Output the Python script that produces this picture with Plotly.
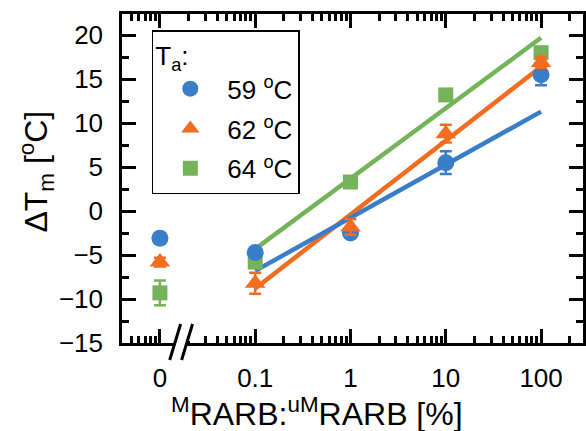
import plotly.graph_objects as go
import numpy as np

# ---- data ----
conc_labels = ["0", "0.1", "1", "10", "100"]
conc = [0, 0.1, 1, 10, 100]
zero_pos = 0.01  # where the "0" category sits on the broken log axis

series_names = ["59 <sup>o</sup>C", "62 <sup>o</sup>C", "64 <sup>o</sup>C"]
dtm_59 = [-3.1, -4.7, -2.5, 5.5, 15.5]
err_59 = [0.6, 0.4, 0.4, 1.3, 1.2]
dtm_62 = [-5.8, -8.2, -1.8, 8.8, 16.9]
err_62 = [0.5, 1.2, 0.9, 1.0, 0.6]
dtm_64 = [-9.3, -5.8, 3.3, 13.2, 18.0]
err_64 = [1.4, 0.3, 0.3, 0.3, 0.4]

fit_x = [0.1, 100]
fit_59 = [-6.8, 11.3]
fit_62 = [-8.8, 16.4]
fit_64 = [-4.3, 19.7]

colors = {"59": "#3A7DC9", "62": "#F26C21", "64": "#74B35A"}

xpos = [zero_pos if c == 0 else c for c in conc]

FONT = "Arial, Liberation Sans, sans-serif"

fig = go.Figure()

# fit lines
for key, fy in [("64", fit_64), ("62", fit_62), ("59", fit_59)]:
    fig.add_trace(go.Scatter(x=fit_x, y=fy, mode="lines",
                             line=dict(color=colors[key], width=4.5),
                             showlegend=False, hoverinfo="skip",
                             legendgroup=key))

# markers (drawing order: green, blue, orange)
specs = [
    ("64", dtm_64, err_64, "square", 15, series_names[2], 3),
    ("59", dtm_59, err_59, "circle", 17, series_names[0], 1),
    ("62", dtm_62, err_62, "triangle-up", 18, series_names[1], 2),
]
for key, ys, es, sym, sz, name, rank in specs:
    fig.add_trace(go.Scatter(
        x=xpos, y=ys, mode="markers", name=name,
        marker=dict(symbol=sym, size=sz, color=colors[key], line=dict(width=0)),
        error_y=dict(type="data", array=es, visible=True, color=colors[key],
                     thickness=2.5, width=6),
        legendgroup=key, legendrank=rank,
    ))

W, H = 586, 431
ml, mr, mt, mb = 122, 0, 14, 88
pw, ph = W - ml - mr, H - mt - mb


def px_x(p):
    return (p - ml) / pw


def px_y(p):
    return (H - mb - p) / ph


major_x = [zero_pos, 0.1, 1, 10, 100]
minor_x = [m * 10.0 ** d for d in range(-3, 3) for m in range(2, 10)]

axis_common = dict(showline=True, linecolor="black", linewidth=2.5,
                   mirror="allticks", ticks="inside", tickcolor="black",
                   tickwidth=2.5, ticklen=14, showgrid=False, zeroline=False,
                   tickfont=dict(family=FONT, size=26, color="black"))

fig.update_xaxes(type="log", range=[np.log10(0.004), 2.44],
                 tickmode="array", tickvals=major_x, ticktext=conc_labels,
                 minor=dict(tickmode="array", tickvals=minor_x, ticks="inside",
                            ticklen=7, tickwidth=2.5, tickcolor="black",
                            showgrid=False),
                 ticklabelstandoff=10, **axis_common)
fig.update_yaxes(range=[-15, 22.4], tickmode="array",
                 tickvals=[-15, -10, -5, 0, 5, 10, 15, 20],
                 minor=dict(dtick=2.5, ticks="inside", ticklen=7, tickwidth=2.5,
                            tickcolor="black", showgrid=False),
                 ticklabelstandoff=11, **axis_common)

shapes = [
    # white gap in bottom axis for the break
    dict(type="rect", xref="paper", yref="paper",
         x0=px_x(175.5), x1=px_x(187.5), y0=px_y(347), y1=px_y(339),
         fillcolor="white", line=dict(width=0), layer="above"),
    dict(type="rect", xref="paper", yref="paper",
         x0=px_x(188.5), x1=px_x(191.5), y0=px_y(341), y1=px_y(333),
         fillcolor="white", line=dict(width=0), layer="above"),
    dict(type="line", xref="paper", yref="paper",
         x0=px_x(170), y0=px_y(360), x1=px_x(181), y1=px_y(324),
         line=dict(color="black", width=3), layer="above"),
    dict(type="line", xref="paper", yref="paper",
         x0=px_x(182), y0=px_y(360), x1=px_x(193), y1=px_y(324),
         line=dict(color="black", width=3), layer="above"),
]

annotations = [
    dict(text="<sup>M</sup>RARB:<sup>uM</sup>RARB [%]", xref="paper", yref="paper",
         x=px_x(318), y=px_y(434), xanchor="center", yanchor="bottom",
         showarrow=False, font=dict(family=FONT, size=32, color="black")),
    dict(text="ΔT<sub>m</sub> [<sup>o</sup>C]", xref="paper", yref="paper",
         x=px_x(35), y=px_y(172), xanchor="center", yanchor="middle",
         textangle=-90, showarrow=False,
         font=dict(family=FONT, size=32, color="black")),
]

fig.update_layout(
    width=W, height=H, margin=dict(l=ml, r=mr, t=mt, b=mb),
    paper_bgcolor="white", plot_bgcolor="white",
    shapes=shapes, annotations=annotations,
    legend=dict(x=px_x(152), y=px_y(30), xanchor="left", yanchor="top",
                bgcolor="white", bordercolor="black", borderwidth=1.5,
                font=dict(family=FONT, size=26, color="black"),
                title=dict(text="T<sub>a</sub>:", font=dict(family=FONT, size=26, color="black")),
                tracegroupgap=3, itemwidth=64),
    font=dict(family=FONT, color="black"),
)

fig.write_html("out.html", config={"displayModeBar": False},
               post_script="document.body.style.margin='0';document.body.style.overflow='hidden';")
